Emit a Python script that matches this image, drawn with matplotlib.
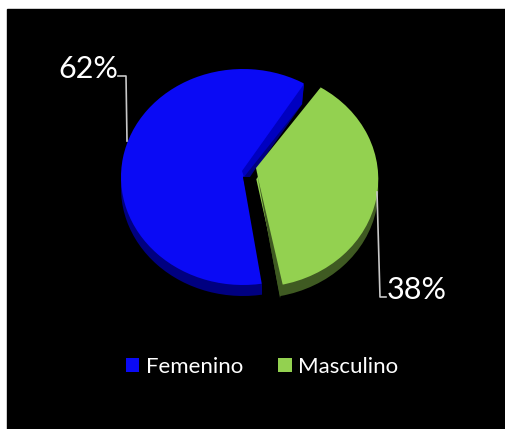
import numpy as np
import matplotlib
matplotlib.use('Agg')
import matplotlib.pyplot as plt
from matplotlib.patches import Patch, Rectangle

categories = ['Femenino', 'Masculino']
values = [62, 38]
pct_labels = ['62%', '38%']

W, H = 506, 429
RX, RY = 122, 108
SCALE = RX / RY   # pie is squashed into an ellipse by the y limits

plt.rcParams['font.family'] = ['Lato', 'DejaVu Sans']

def Y(py):
    return (H - py) * SCALE

fig = plt.figure(figsize=(W / 100, H / 100), dpi=100, facecolor='white')
ax = fig.add_axes([0, 0, 1, 1])

# black panel, the picture has a small white margin top and left
ax.add_patch(Rectangle((7, Y(440)), W, Y(9) - Y(440), color='black', zorder=0))

start = 58
blue, blue_dark = '#0a0af5', '#000080'
green, green_dark = '#93d150', '#3f5a22'

# depth layer
ax.pie(values, colors=[blue_dark, green_dark], startangle=start, radius=RX,
       center=(243, Y(188)), explode=[0, 13.5], normalize=True,
       wedgeprops={'linewidth': 0, 'zorder': 1})
# keep the gap between the slices clean
ax.fill([256, 280, 264, 248], [Y(168), Y(298), Y(298), Y(180)], color='black', lw=0, zorder=1.5)
# top face
ax.pie(values, colors=[blue, green], startangle=start, radius=RX,
       center=(243, Y(177)), explode=[0, 13.5], normalize=True,
       wedgeprops={'linewidth': 0, 'zorder': 2})

# trim the blue slice, it is drawn a little narrower than its share
ax.fill([243, 262, 262, 274, 252], [Y(177), Y(285), Y(298), Y(298), Y(177)], color='black', lw=0, zorder=2.5)
ax.fill([304, 302, 316, 316], [Y(80), Y(104), Y(96), Y(80)], color='black', lw=0, zorder=2.5)

# green apex sits a bit higher than the ellipse centre
ax.fill([321, 256, 281, 295], [Y(87), Y(168), Y(286), Y(180)], color=green, lw=0, zorder=3)
ax.fill([256, 258, 283, 280], [Y(168), Y(178), Y(286), Y(298)], color=green_dark, lw=0, zorder=4)
# inner wall of the blue slice
ax.fill([304, 302, 244, 242], [Y(84), Y(104), Y(177), Y(171)], color='#0000c0', lw=0, zorder=4)

# leader lines
ax.plot([118, 126, 127], [Y(76), Y(76), Y(141)], color='#c8c8c8', lw=1.2, zorder=5)
ax.plot([377, 380, 386], [Y(192), Y(297), Y(297)], color='#c8c8c8', lw=1.2, zorder=5)

ax.text(88, Y(69), pct_labels[0], color='white', fontsize=22, ha='center', va='center', zorder=6)
ax.text(417, Y(290), pct_labels[1], color='white', fontsize=22, ha='center', va='center', zorder=6)

handles = [Patch(facecolor=blue, label=categories[0]), Patch(facecolor=green, label=categories[1])]
ax.legend(handles=handles, loc='center', bbox_to_anchor=(262 / W, 1 - 367 / H), ncol=2,
          frameon=False, labelcolor='white', fontsize=16, handlelength=0.6, handleheight=0.6,
          handletextpad=0.3, columnspacing=1.6)

ax.set_xlim(0, W)
ax.set_ylim(0, H * SCALE)
ax.set_aspect('auto')
ax.axis('off')

plt.savefig('out.png', dpi=100, facecolor='white')
plt.close()
